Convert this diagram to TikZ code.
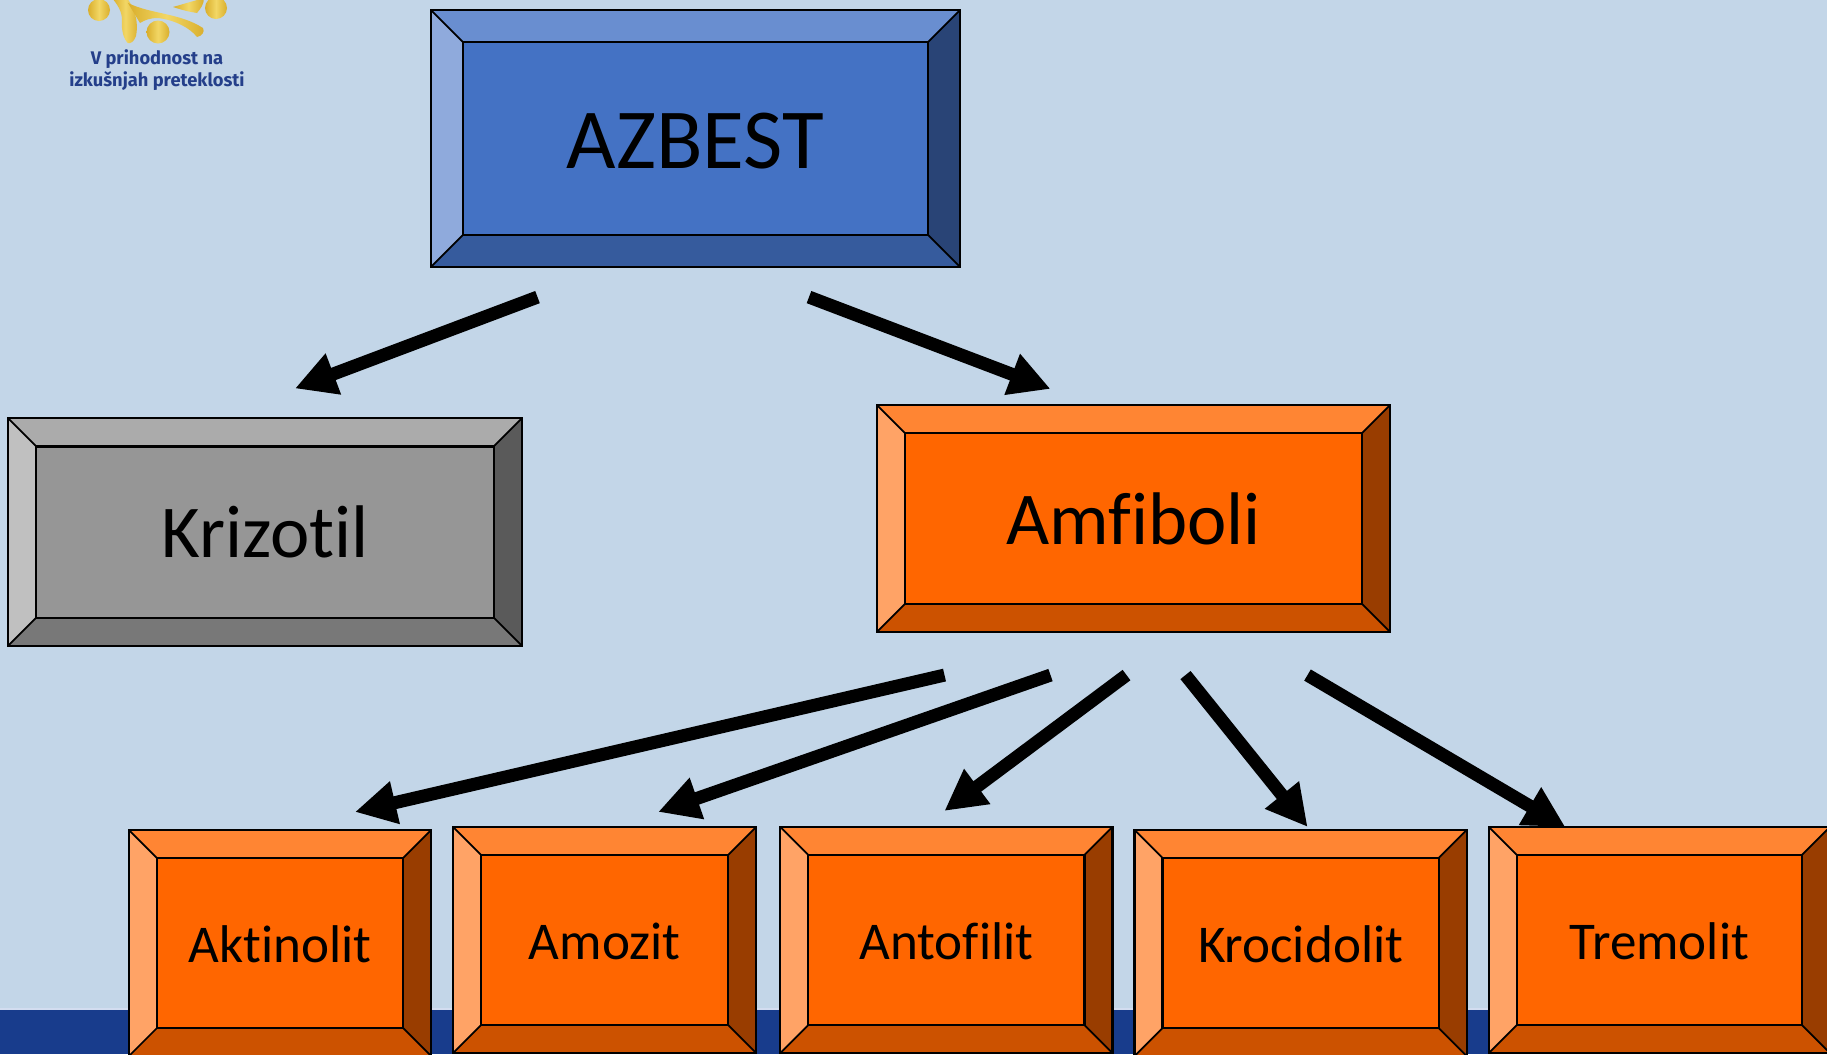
\documentclass[tikz,border=0pt]{standalone}
\usepackage{xcolor}
\usepackage{fontspec}
\setmainfont[Ligatures=NoCommon]{Carlito}
\newfontfamily\logofont[Ligatures=NoCommon]{Fira Sans}
\usetikzlibrary{arrows.meta, positioning}
\definecolor{slide}{HTML}{C3D6E8}
\definecolor{band}{HTML}{183C8C}
\definecolor{bandline}{HTML}{D3DDF0}
\definecolor{gold}{HTML}{D9AE2C}
\definecolor{goldlight}{HTML}{F2D765}
\definecolor{logotext}{HTML}{243F8A}
\definecolor{blueface}{HTML}{4472C4}
\definecolor{bluetop}{HTML}{698ED0}
\definecolor{blueleft}{HTML}{8FAADC}
\definecolor{blueright}{HTML}{294476}
\definecolor{bluebottom}{HTML}{365B9D}
\definecolor{greyface}{HTML}{969696}
\definecolor{greytop}{HTML}{ABABAB}
\definecolor{greyleft}{HTML}{C0C0C0}
\definecolor{greyright}{HTML}{5A5A5A}
\definecolor{greybottom}{HTML}{787878}
\definecolor{orangeface}{HTML}{FF6600}
\definecolor{orangetop}{HTML}{FF8533}
\definecolor{orangeleft}{HTML}{FFA366}
\definecolor{orangeright}{HTML}{993D00}
\definecolor{orangebottom}{HTML}{CC5200}
\tikzset{
    bevelbox/.style 2 args={rectangle, draw=black, line width=0.6pt, outer sep=0pt, inner sep=0pt, fill=#1face, text=black, text centered,
        path picture={
            \coordinate (nw) at (path picture bounding box.north west);
            \coordinate (ne) at (path picture bounding box.north east);
            \coordinate (sw) at (path picture bounding box.south west);
            \coordinate (se) at (path picture bounding box.south east);
            \coordinate (inw) at ([xshift=#2,yshift=-#2]nw);
            \coordinate (ine) at ([xshift=-#2,yshift=-#2]ne);
            \coordinate (isw) at ([xshift=#2,yshift=#2]sw);
            \coordinate (ise) at ([xshift=-#2,yshift=#2]se);
            \fill[#1top] (nw) -- (ne) -- (ine) -- (inw) -- cycle;
            \fill[#1left] (nw) -- (sw) -- (isw) -- (inw) -- cycle;
            \fill[#1right] (ne) -- (se) -- (ise) -- (ine) -- cycle;
            \fill[#1bottom] (sw) -- (se) -- (ise) -- (isw) -- cycle;
            \draw[black, line width=0.6pt] (inw) rectangle (ise);
            \foreach \outer/\inner in {nw/inw, ne/ine, sw/isw, se/ise} {
                \draw[black, line width=0.5pt] (\outer) -- (\inner);
            }
        }},
    topbox/.style={bevelbox={blue}{0.32cm}, minimum width=5.29cm, minimum height=2.57cm, text height=0.6cm, font=\fontsize{24.3pt}{30pt}\selectfont},
    midbox/.style={bevelbox={#1}{0.28cm}, minimum width=5.13cm, minimum height=2.27cm, font=\fontsize{21.2pt}{26pt}\selectfont},
    smallbox/.style={bevelbox={orange}{0.28cm}, minimum height=2.26cm, text height=0.4cm, font=\fontsize{15.1pt}{18pt}\selectfont},
    arrow/.style={line width=0.13cm, -{Triangle[length=0.41cm, width=0.41cm]}},
    swoosh/.style={left color=gold, right color=gold, middle color=goldlight, draw=none}
}
\begin{document}
\begin{tikzpicture}[x=0.01cm, y=-0.01cm]
        \clip (0,0) rectangle (1827,1054);
        % Background
        \fill[slide] (0,0) rectangle (1827,1054);
        \fill[band] (0,1010) rectangle (1827,1054);
        \fill[bandline] (0,1008) rectangle (1827,1010);

        % Logo
        \path[swoosh] (99,10) circle (11);
        \path[swoosh] (216,8) circle (11);
        \path[swoosh] (158,32) circle (11.5);
        \path[swoosh] (112,-2) -- (127,-2) .. controls (134,8) and (139,20) .. (136,36) .. controls (134,42) and (130,44) .. (128,43) .. controls (124,40) and (121,30) .. (122,20) .. controls (122,12) and (118,5) .. (112,-2) -- cycle;
        \path[swoosh] (128,3) .. controls (150,14) and (180,13) .. (203,28) .. controls (205,32) and (202,36) .. (197,37) .. controls (190,28) and (175,20) .. (158,18) .. controls (150,18) and (145,20) .. (140,23) -- cycle;
        \path[swoosh] (173,7) -- (204,-2) .. controls (204,5) and (200,9) .. (197,13) .. controls (190,12) and (182,10) .. (173,7) -- cycle;
        \node[font=\logofont\bfseries\fontsize{5.2pt}{6.1pt}\selectfont, text=logotext, align=center] (logo) at (157,70) {V prihodnost na\\izkušnjah preteklosti};

        % Nodes
        \node[topbox] (azbest) at (695.5,138.5) {AZBEST};
        \node[midbox=grey] (krizotil) at (265,532) {Krizotil};
        \node[midbox=orange, right=3.55cm of krizotil, yshift=0.135cm] (amfiboli) {Amfiboli};
        \node[smallbox, minimum width=3.02cm] (aktinolit) at (280,943) {Aktinolit};
        \node[smallbox, minimum width=3.03cm, right=0.22cm of aktinolit, yshift=0.03cm] (amozit) {Amozit};
        \node[smallbox, minimum width=3.32cm, right=0.24cm of amozit] (antofilit) {Antofilit};
        \node[smallbox, minimum width=3.32cm, right=0.22cm of antofilit, yshift=-0.03cm] (krocidolit) {Krocidolit};
        \node[smallbox, minimum width=3.41cm, right=0.22cm of krocidolit, yshift=0.03cm] (tremolit) {Tremolit};

        % Arrows
        \draw[arrow] ([shift={(-158,30)}]azbest.south) -- ([shift={(30,-30)}]krizotil.north);
        \draw[arrow] ([shift={(113.5,30)}]azbest.south) -- ([shift={(-83,-16)}]amfiboli.north);
        \draw[arrow] ([shift={(-189,43)}]amfiboli.south) -- ([shift={(75,-18)}]aktinolit.north);
        \draw[arrow] ([shift={(-83,43)}]amfiboli.south) -- ([shift={(53.5,-15)}]amozit.north);
        \draw[arrow] ([shift={(-7,43)}]amfiboli.south) -- ([shift={(-2,-16)}]antofilit.north);
        \draw[arrow] ([shift={(52,43)}]amfiboli.south) -- ([shift={(7,-3)}]krocidolit.north);
        \draw[arrow] ([shift={(174,43)}]amfiboli.south) -- ([shift={(-94,0)}]tremolit.north);
    \end{tikzpicture}
\end{document}
